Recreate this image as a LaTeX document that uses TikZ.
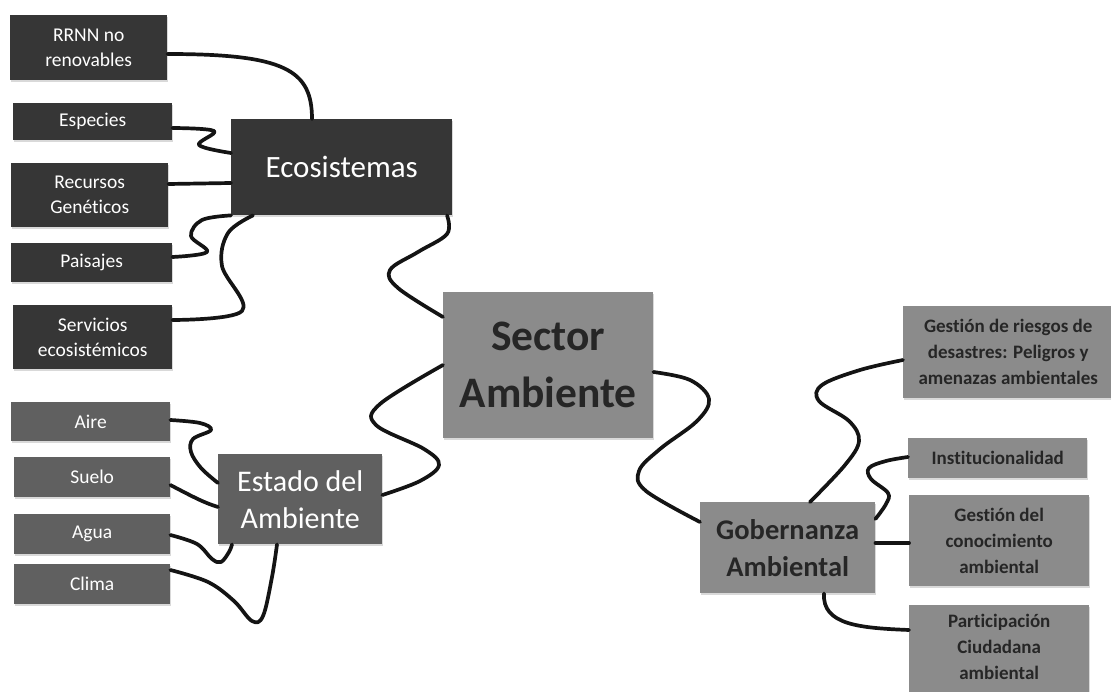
\documentclass[tikz,border=0pt]{standalone}
\usepackage{fontspec}
\setmainfont{Carlito}[Ligatures={NoCommon,NoRare,NoContextual},Contextuals=NoAlternate]
\usetikzlibrary{shadows,calc}
\definecolor{dk}{HTML}{363636}
\definecolor{md}{HTML}{606060}
\definecolor{lt}{HTML}{8B8B8B}
\definecolor{tx}{HTML}{262626}
\begin{document}
\begin{tikzpicture}[x=1pt,y=-1pt,
  box/.style={anchor=north west, inner sep=0pt, align=center, draw=none,
    drop shadow={shadow xshift=1pt, shadow yshift=-1.5pt, opacity=0.3}},
  dkbox/.style={box, fill=dk, text=white},
  mdbox/.style={box, fill=md, text=white},
  ltbox/.style={box, fill=lt, text=tx},
  smallfont/.style={font=\fontsize{19.5}{25}\selectfont},
  rightfont/.style={font=\bfseries\fontsize{19}{26}\selectfont},
  wire/.style={line width=3.7pt, line cap=round, line join=round, black!92},
  curvy/.style={wire, smooth, tension=0.6}]
\useasboundingbox (0,0) rectangle (1111,692);

% --- Ecosistemas group
\node[dkbox, smallfont, minimum width=157, minimum height=65] (rrnn) at (10,15) {RRNN no\\renovables};
\node[dkbox, smallfont, minimum width=159, minimum height=37] (esp) at (13,103) {Especies};
\node[dkbox, smallfont, minimum width=157, minimum height=64] (rec) at (11,163) {Recursos\\Genét\kern0pt icos};
\node[dkbox, smallfont, minimum width=161, minimum height=39] (pai) at (11,243) {Paisajes};
\node[dkbox, smallfont, minimum width=159, minimum height=64] (ser) at (13,305) {Servicios\\ecosistémicos};
\node[dkbox, font=\fontsize{31}{36}\selectfont, minimum width=221, minimum height=96] (eco) at (231,119) {Ecosistemas};

% --- Estado del Ambiente group
\node[mdbox, smallfont, minimum width=159, minimum height=39] (aire) at (11,402) {Aire};
\node[mdbox, smallfont, minimum width=156, minimum height=40] (suelo) at (14,457) {Suelo};
\node[mdbox, smallfont, minimum width=156, minimum height=40] (agua) at (14,514) {Agua};
\node[mdbox, smallfont, minimum width=156, minimum height=40] (clima) at (14,564) {Clima};
\node[mdbox, font=\fontsize{30}{37}\selectfont, minimum width=164, minimum height=90] (est) at (218,454) {Estado del\\Ambiente};

% --- Centre
\node[ltbox, font=\bfseries\fontsize{43.5}{57}\selectfont, minimum width=210, minimum height=146] (sec) at (443,292) {Sector\\Ambiente};

% --- Gobernanza group
\node[ltbox, font=\bfseries\fontsize{28.5}{37}\selectfont, minimum width=175, minimum height=91] (gob) at (700,502) {Gobernanza\\Ambiental};
\node[ltbox, rightfont, minimum width=210, minimum height=92] (ries) at (903,306) {Gest\kern0pt ión de riesgos de\\desastres: Peligros y\\amenazas ambientales};
\node[ltbox, rightfont, minimum width=179, minimum height=40] (inst) at (908,438) {Inst\kern0pt itucionalidad};
\node[ltbox, rightfont, minimum width=180, minimum height=91] (cono) at (909,495) {Gest\kern0pt ión del\\conocimiento\\ambiental};
\node[ltbox, rightfont, minimum width=180, minimum height=120] (part) at (909,605) {\rule{0pt}{0pt}\\[-14pt]Part\kern0pt icipación\\Ciudadana\\ambiental\\[10pt]};

% --- connectors: Ecosistemas
\draw[wire] (rrnn.east |- 0,54) .. controls (285,54) and (312,70) .. (eco.north west -| 312,0);
\draw[curvy] plot coordinates {(esp.east |- 0,128) (214,131) (199,145) (eco.west |- 0,153)};
\draw[wire] (rec.east |- 0,184) -- (eco.west |- 0,183);
\draw[curvy] plot coordinates {(pai.east |- 0,257) (207,252) (191,236) (202,220) (eco.south west -| 231,207)};
\draw[curvy] plot coordinates {(ser.east |- 0,320) (242,311) (222,266) (228,233) (eco.south west -| 253,0)};
\draw[curvy] plot coordinates {(eco.south east -| 447,0) (447,234) (418,252) (390,270) (398,288) (sec.west |- 0,317)};

% --- connectors: Estado del Ambiente
\draw[curvy] plot coordinates {(aire.east |- 0,420) (200,423) (211,430) (193,439) (191,452) (201,468) (est.west |- 0,483)};
\draw[wire] (suelo.east |- 0,485) .. controls (195,498) and (205,503) .. (est.west |- 0,507);
\draw[curvy] plot coordinates {(agua.east |- 0,535) (197,544) (212,559) (221,562) (229,552) (est.south west -| 232,0)};
\draw[curvy] plot coordinates {(clima.east |- 0,570) (208,582) (234,601) (252,621) (263,616) (272,577) (est.south west -| 277,0)};
\draw[curvy] plot coordinates {(est.east |- 0,495) (420,481) (439,465) (424,449) (376,425) (380,404) (sec.west |- 0,365)};

% --- connectors: Gobernanza
\draw[curvy] plot coordinates {(sec.east |- 0,372) (690,380) (709,399) (697,421) (660,449) (639,471) (646,491) (gob.west |- 0,522)};
\draw[curvy] plot coordinates {(gob.north west -| 810,0) (845,465) (859,441) (849,421) (819,401) (822,385) (860,370) (ries.west |- 0,360)};
\draw[curvy] plot coordinates {(gob.east |- 0,519) (886,504) (888,493) (871,479) (869,468) (886,461) (inst.west |- 0,457)};
\draw[wire] (gob.east |- 0,543) -- (cono.west |- 0,543);
\draw[wire] (gob.south west -| 824,0) .. controls (822,625) and (860,628) .. (part.west |- 0,630);
\end{tikzpicture}
\end{document}
